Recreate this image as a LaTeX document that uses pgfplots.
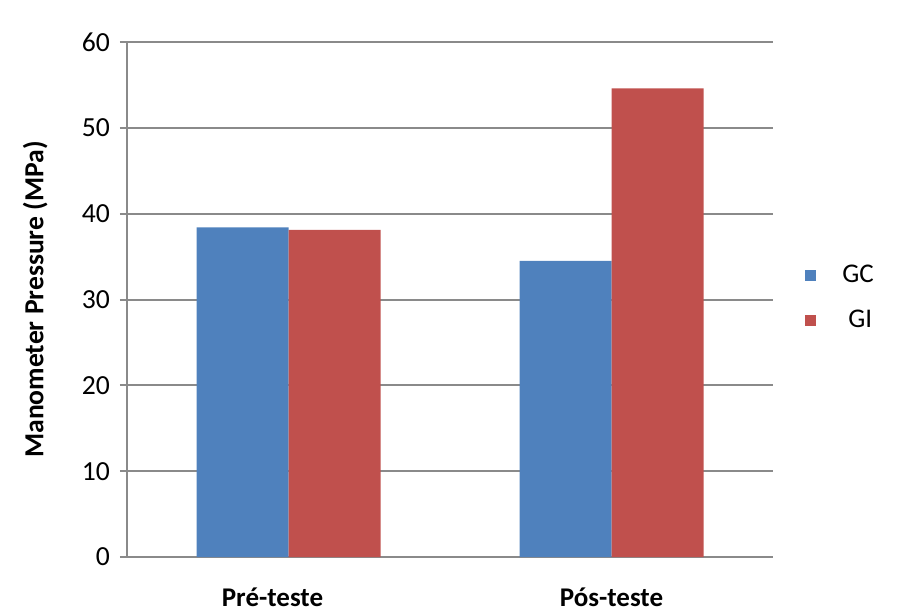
\documentclass[border=0pt]{standalone}
\usepackage{pgfplots}
\pgfplotsset{compat=1.18}
\usepackage{fontspec}
\setmainfont{Carlito}
\definecolor{gcblue}{HTML}{4F81BD}
\definecolor{gired}{HTML}{C0504D}
\definecolor{gridgray}{HTML}{8A8A8A}
\begin{document}
\begin{tikzpicture}
\useasboundingbox (0pt,0pt) rectangle (455pt,306pt);
\begin{axis}[
  at={(63.5pt,27.5pt)}, anchor=south west,
  scale only axis, width=323pt, height=257.5pt,
  ybar=0pt, bar width=46pt,
  xmin=-0.5, xmax=1.5, ymin=0, ymax=60,
  xtick={0,1}, xticklabels={\hspace*{-16pt}Pré-teste,Pós-teste},
  ytick={0,10,20,30,40,50,60},
  axis x line*=bottom, axis y line*=left,
  axis line style={gridgray, line width=1pt, -},
  ymajorgrids, grid style={gridgray, line width=1pt},
  y tick style={gridgray, line width=1pt},
  x tick style={draw=none},
  major tick length=3.5pt, tick align=outside,
  /pgf/number format/assume math mode=true,
  ticklabel style={font=\fontsize{13.8}{16}\selectfont},
  xticklabel style={font=\fontsize{13.5}{16}\selectfont\bfseries, yshift=-8.5pt},
  yticklabel style={xshift=-1.5pt},
  ylabel={Manometer Pressure (MPa)},
  ylabel style={font=\fontsize{13.8}{16}\selectfont\bfseries, at={(axis description cs:-0.142,0.5)}, anchor=center},
  legend style={draw=none, fill=none, at={(1.04,0.503)}, anchor=west,
    font=\fontsize{13.5}{16}\selectfont, row sep=8pt},
  legend cell align=left,
  legend image code/.code={\fill[#1,draw=none] (0pt,-2.8pt) rectangle (5.6pt,2.8pt);},
]
\addplot[fill=gcblue, draw=none] coordinates {(0,38.4) (1,34.5)};
\addplot[fill=gired, draw=none] coordinates {(0,38.1) (1,54.6)};
\legend{\hspace{11pt}GC,\hspace{14pt}GI}
\end{axis}
\end{tikzpicture}
\end{document}
